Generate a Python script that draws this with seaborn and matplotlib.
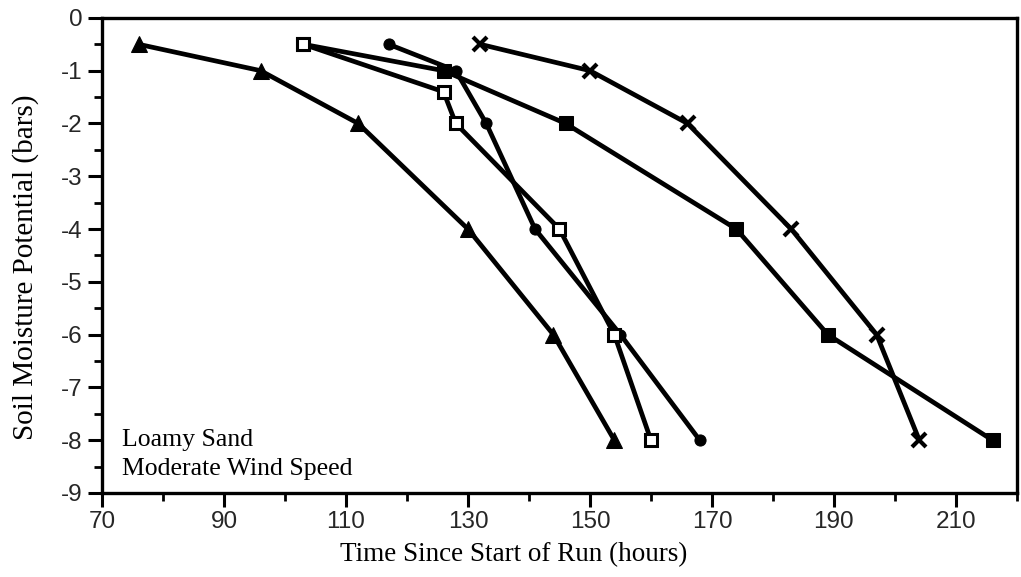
import matplotlib
matplotlib.use("Agg")
import matplotlib.pyplot as plt
from matplotlib.ticker import MultipleLocator
import seaborn as sns
import pandas as pd

# Drying curves: soil moisture potential (bars) vs. time since start of run (hours)
time_triangle = [76, 96, 112, 130, 144, 154]
psi_triangle = [-0.5, -1, -2, -4, -6, -8]

time_open_square = [103, 126, 128, 145, 154, 160]
psi_open_square = [-0.5, -1.4, -2, -4, -6, -8]

time_diamond = [117, 128, 133, 141, 155, 168]
psi_diamond = [-0.5, -1, -2, -4, -6, -8]

time_filled_square = [103, 126, 146, 174, 189, 216]
psi_filled_square = [-0.5, -1, -2, -4, -6, -8]

time_cross = [132, 150, 166, 183, 197, 204]
psi_cross = [-0.5, -1, -2, -4, -6, -8]

x_ticks = [70, 90, 110, 130, 150, 170, 190, 210]
y_ticks = [0, -1, -2, -3, -4, -5, -6, -7, -8, -9]

sns.set_theme(style="white")
plt.rcParams["font.family"] = ["Liberation Serif", "DejaVu Serif"]

fig = plt.figure(figsize=(10.21, 5.77), dpi=100)
ax = fig.add_axes([0.0999, 0.1456, 0.8961, 0.8234])

series = [
    (time_filled_square, psi_filled_square, dict(marker="s", markerfacecolor="black", markersize=10)),
    (time_cross, psi_cross, dict(marker="x", markeredgewidth=3.0, markersize=10)),
    (time_triangle, psi_triangle, dict(marker="^", markerfacecolor="black", markersize=11)),
    (time_diamond, psi_diamond, dict(marker="o", markerfacecolor="black", markersize=8)),
    (time_open_square, psi_open_square, dict(marker="s", markerfacecolor="white", markeredgewidth=2.2, markersize=9)),
]

for xs, ys, style in series:
    df = pd.DataFrame({"time": xs, "psi": ys})
    sns.lineplot(data=df, x="time", y="psi", ax=ax, color="black",
                 linewidth=3.4, markeredgecolor="black", sort=False, **style)

ax.set_xlim(70, 220)
ax.set_ylim(-9, 0)
ax.set_xticks(x_ticks)
ax.set_yticks(y_ticks)
ax.xaxis.set_minor_locator(MultipleLocator(10))
ax.yaxis.set_minor_locator(MultipleLocator(0.5))

tick_font = dict(family=["Liberation Sans", "DejaVu Sans"], size=17.5)
ax.set_xticklabels([str(v) for v in x_ticks], fontdict=tick_font)
ax.set_yticklabels([str(v) for v in y_ticks], fontdict=tick_font)

ax.tick_params(axis="y", which="major", direction="out", length=10, width=2.2, color="black", pad=4,
               left=True)
ax.tick_params(axis="x", which="major", direction="out", length=10, width=2.2, color="black", pad=3,
               bottom=True)
ax.tick_params(which="minor", direction="out", length=6, width=2.0, color="black",
               left=True, bottom=True)

for side in ["left", "bottom", "right", "top"]:
    ax.spines[side].set_visible(True)
    ax.spines[side].set_color("black")
    ax.spines[side].set_linewidth(2.4)

ax.set_xlabel("Time Since Start of Run (hours)", fontsize=19.5, color="black")
ax.set_ylabel("Soil Moisture Potential (bars)", fontsize=21, color="black")
ax.xaxis.set_label_coords(0.45, -0.104)
ax.yaxis.set_label_coords(-0.069, 0.475)
ax.grid(False)

ax.text(73.2, -7.99, "Loamy Sand", fontsize=18.5, color="black", va="center", ha="left")
ax.text(73.2, -8.55, "Moderate Wind Speed", fontsize=18.5, color="black", va="center", ha="left")

fig.savefig("out.png", dpi=100, facecolor="white")
